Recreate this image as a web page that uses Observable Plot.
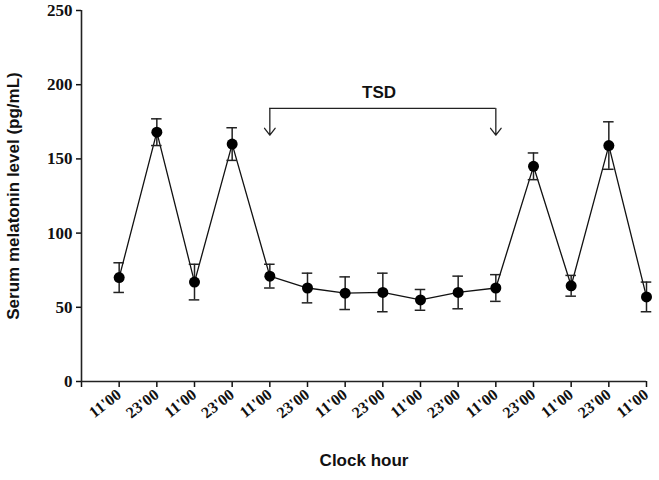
<!DOCTYPE html>
<html><head><meta charset="utf-8">
<script src="https://cdn.jsdelivr.net/npm/d3@7"></script>
<script src="https://cdn.jsdelivr.net/npm/@observablehq/plot@0.6"></script>
<style>body{margin:0;background:#fff}</style>
</head><body><div id="chart"></div>
<script>
const hours = ["11'00","23'00","11'00","23'00","11'00","23'00","11'00","23'00","11'00","23'00","11'00","23'00","11'00","23'00","11'00"];
const means = [70, 168, 67, 160, 71, 63, 59.5, 60, 55, 60, 63, 145, 64.5, 159, 57];
const errors = [10, 9, 12, 11, 8, 10, 11, 13, 7, 11, 9, 9, 7, 16, 10];
const yTicks = [0, 50, 100, 150, 200, 250];
const tsdLabel = "TSD";
const tsdStart = 4, tsdEnd = 10, tsdTop = 184, tsdTip = 166, tsdLabelY = 195;

const data = hours.map((h, i) => ({i, hour: h, mean: means[i], lo: means[i] - errors[i], hi: means[i] + errors[i]}));
const capHalf = 0.14;
const sans = "'Liberation Sans', Arial, sans-serif";
const serif = "'Liberation Serif', 'Times New Roman', serif";

const chart = Plot.plot({
  width: 659, height: 480,
  marginLeft: 81, marginRight: 13, marginTop: 10, marginBottom: 99,
  x: {domain: [-1, 14]},
  y: {domain: [0, 250]},
  style: {background: "#fff", color: "#111"},
  marks: [
    Plot.axisY({ticks: yTicks, tickSize: 5, tickPadding: 4, tickFormat: d => d, fontFamily: serif, fontSize: 17, fontWeight: "bold", label: null, strokeWidth: 1.5}),
    Plot.axisX({ticks: d3.range(-1, 15), tickSize: 6, tickPadding: 5, tickFormat: i => hours[i] ?? "", tickRotate: -38, fontFamily: serif, fontSize: 16, fontWeight: "bold", label: null, strokeWidth: 1.5}),
    Plot.ruleX([-1], {stroke: "#222", strokeWidth: 1.6}),
    Plot.ruleY([0], {stroke: "#222", strokeWidth: 1.6}),
    Plot.line(data, {x: "i", y: "mean", stroke: "#111", strokeWidth: 1.3}),
    Plot.ruleX(data, {x: "i", y1: "lo", y2: "hi", stroke: "#222", strokeWidth: 1.5}),
    Plot.ruleY(data, {y: "hi", x1: d => d.i - capHalf, x2: d => d.i + capHalf, stroke: "#222", strokeWidth: 1.5}),
    Plot.ruleY(data, {y: "lo", x1: d => d.i - capHalf, x2: d => d.i + capHalf, stroke: "#222", strokeWidth: 1.5}),
    Plot.dot(data, {x: "i", y: "mean", r: 5.5, fill: "#000", stroke: "none"}),
    Plot.ruleY([tsdTop], {x1: tsdStart, x2: tsdEnd, stroke: "#222", strokeWidth: 1.3}),
    Plot.arrow([tsdStart, tsdEnd], {x1: d => d, x2: d => d, y1: tsdTop, y2: tsdTip, stroke: "#222", strokeWidth: 1.3, headLength: 10, headAngle: 75}),
    Plot.text([tsdLabel], {x: (tsdStart + tsdEnd) / 2 - 0.1, y: tsdLabelY, fontFamily: sans, fontSize: 17, fontWeight: "bold", fill: "#111"}),
    Plot.text(["Serum melatonin level (pg/mL)"], {frameAnchor: "left", dx: -68, rotate: -90, textAnchor: "middle", fontFamily: sans, fontSize: 17, fontWeight: "bold", fill: "#111"}),
    Plot.text(["Clock hour"], {frameAnchor: "bottom", dy: 84, textAnchor: "middle", fontFamily: sans, fontSize: 17, fontWeight: "bold", fill: "#111"})
  ]
});
document.getElementById("chart").append(chart);
</script>
</body></html>
